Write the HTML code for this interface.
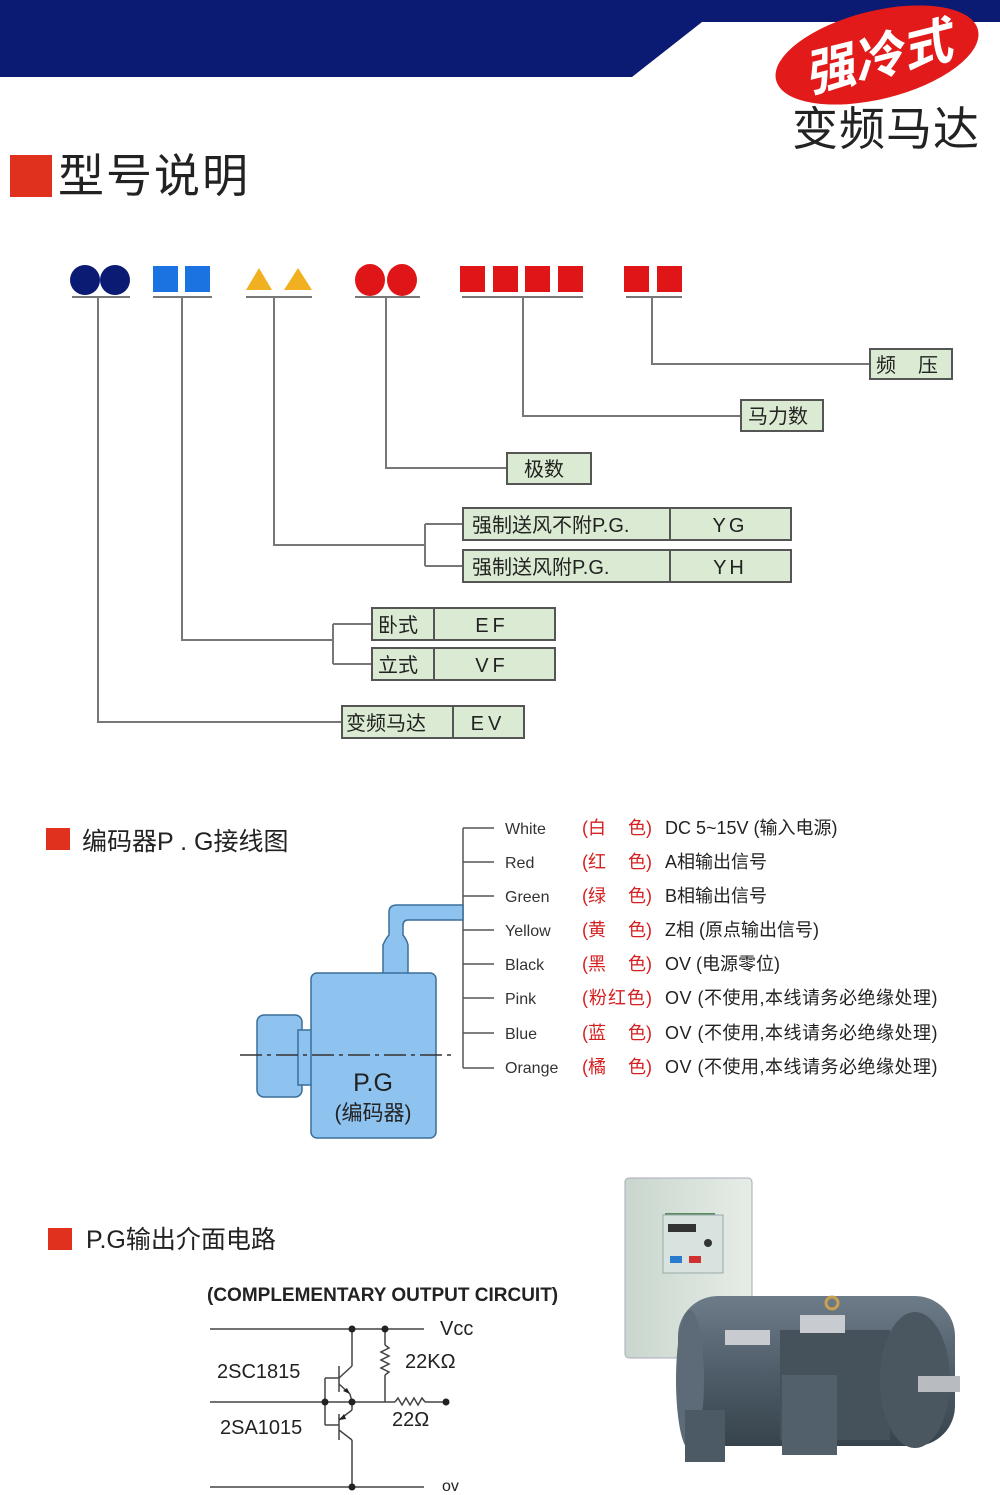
<!DOCTYPE html>
<html><head><meta charset="utf-8"><style>
body{margin:0;background:#fff;}
svg{display:block;}
text{font-family:"Liberation Sans","Noto Sans CJK SC",sans-serif;}
</style></head><body>
<svg width="1000" height="1495" viewBox="0 0 1000 1495" xmlns="http://www.w3.org/2000/svg">
<defs>
<linearGradient id="mg" x1="0" y1="0" x2="0" y2="1"><stop offset="0" stop-color="#6d7c88"/><stop offset="0.5" stop-color="#4f5e6a"/><stop offset="1" stop-color="#37434c"/></linearGradient>
<linearGradient id="ig" x1="0" y1="0" x2="1" y2="0"><stop offset="0" stop-color="#c9d6cd"/><stop offset="1" stop-color="#e6ede6"/></linearGradient>
</defs>
<polygon points="0,0 1000,0 1000,22 702,22 632,77 0,77" fill="#0b1a72"/>
<ellipse cx="877" cy="55" rx="104" ry="44" transform="rotate(-14 877 55)" fill="#e21a1a"/>
<text x="877" y="75" text-anchor="middle" font-size="50" font-weight="bold" font-style="italic" fill="#fff" transform="rotate(-14 877 55)">强冷式</text>
<text x="886" y="145" text-anchor="middle" font-size="46" fill="#222" letter-spacing="1">变频马达</text>
<rect x="10" y="155" width="42" height="42" fill="#e0301e"/>
<text x="58" y="192" font-size="46" fill="#222" letter-spacing="2">型号说明</text>

<g>
<circle cx="85" cy="280" r="15" fill="#0b1a72"/><circle cx="115" cy="280" r="15" fill="#0b1a72"/>
<rect x="153" y="266" width="25" height="26" fill="#1a73e0"/><rect x="185" y="266" width="25" height="26" fill="#1a73e0"/>
<polygon points="259,268 272,290 246,290" fill="#f0b020"/><polygon points="298,268 312,290 284,290" fill="#f0b020"/>
<ellipse cx="370" cy="280" rx="15" ry="16" fill="#e01518"/><ellipse cx="402" cy="280" rx="15" ry="16" fill="#e01518"/>
<rect x="460" y="266" width="25" height="26" fill="#e01518"/><rect x="493" y="266" width="25" height="26" fill="#e01518"/>
<rect x="525" y="266" width="25" height="26" fill="#e01518"/><rect x="558" y="266" width="25" height="26" fill="#e01518"/>
<rect x="624" y="266" width="25" height="26" fill="#e01518"/><rect x="657" y="266" width="25" height="26" fill="#e01518"/>
</g>
<g stroke="#777" stroke-width="2" fill="none">
<line x1="72" y1="297" x2="130" y2="297"/><line x1="153" y1="297" x2="212" y2="297"/>
<line x1="246" y1="297" x2="312" y2="297"/><line x1="355" y1="297" x2="420" y2="297"/>
<line x1="462" y1="297" x2="583" y2="297"/><line x1="626" y1="297" x2="682" y2="297"/>
<polyline points="98,297 98,722 342,722"/>
<polyline points="182,297 182,640 333,640"/>
<polyline points="333,624 333,664"/><line x1="333" y1="624" x2="372" y2="624"/><line x1="333" y1="664" x2="372" y2="664"/>
<polyline points="274,297 274,545 425,545"/>
<polyline points="425,524 425,566"/><line x1="425" y1="524" x2="463" y2="524"/><line x1="425" y1="566" x2="463" y2="566"/>
<polyline points="386,297 386,468 507,468"/>
<polyline points="523,297 523,416 741,416"/>
<polyline points="652,297 652,364 870,364"/>
</g>
<g fill="#dbebd3" stroke="#555" stroke-width="2">
<rect x="870" y="349" width="82" height="30"/>
<rect x="741" y="400" width="82" height="31"/>
<rect x="507" y="453" width="84" height="31"/>
<rect x="463" y="508" width="328" height="32"/><line x1="670" y1="508" x2="670" y2="540"/>
<rect x="463" y="550" width="328" height="32"/><line x1="670" y1="550" x2="670" y2="582"/>
<rect x="372" y="608" width="183" height="32"/><line x1="434" y1="608" x2="434" y2="640"/>
<rect x="372" y="648" width="183" height="32"/><line x1="434" y1="648" x2="434" y2="680"/>
<rect x="342" y="706" width="182" height="32"/><line x1="453" y1="706" x2="453" y2="738"/>
</g>
<g font-size="20" fill="#222">
<text x="876" y="372">频</text><text x="918" y="372">压</text>
<text x="748" y="423">马力数</text>
<text x="524" y="476">极数</text>
<text x="472" y="532">强制送风不附P.G.</text><text x="730" y="532" text-anchor="middle" letter-spacing="3">YG</text>
<text x="472" y="574">强制送风附P.G.</text><text x="730" y="574" text-anchor="middle" letter-spacing="3">YH</text>
<text x="378" y="632">卧式</text><text x="492" y="632" text-anchor="middle" letter-spacing="4">EF</text>
<text x="378" y="672">立式</text><text x="492" y="672" text-anchor="middle" letter-spacing="4">VF</text>
<text x="346" y="730">变频马达</text><text x="488" y="730" text-anchor="middle" letter-spacing="4">EV</text>
</g>

<rect x="46" y="828" width="24" height="22" fill="#e0301e"/>
<text x="82" y="850" font-size="25" fill="#222">编码器P . G接线图</text>
<g stroke="#555" stroke-width="1.5">
<line x1="463" y1="828" x2="463" y2="1068"/>
<line x1="463" y1="828" x2="494" y2="828"/><line x1="463" y1="862" x2="494" y2="862"/>
<line x1="463" y1="896" x2="494" y2="896"/><line x1="463" y1="930" x2="494" y2="930"/>
<line x1="463" y1="964" x2="494" y2="964"/><line x1="463" y1="998" x2="494" y2="998"/>
<line x1="463" y1="1033" x2="494" y2="1033"/><line x1="463" y1="1068" x2="494" y2="1068"/>
</g>
<g font-size="16" fill="#333">
<text x="505" y="834">White</text><text x="505" y="868">Red</text><text x="505" y="902">Green</text><text x="505" y="936">Yellow</text>
<text x="505" y="970">Black</text><text x="505" y="1004">Pink</text><text x="505" y="1039">Blue</text><text x="505" y="1073">Orange</text>
</g>
<g font-size="18" fill="#d42020">
<text x="582" y="834">(白</text><text x="628" y="834">色)</text>
<text x="582" y="868">(红</text><text x="628" y="868">色)</text>
<text x="582" y="902">(绿</text><text x="628" y="902">色)</text>
<text x="582" y="936">(黄</text><text x="628" y="936">色)</text>
<text x="582" y="970">(黑</text><text x="628" y="970">色)</text>
<text x="582" y="1004" letter-spacing="1">(粉红色)</text>
<text x="582" y="1039">(蓝</text><text x="628" y="1039">色)</text>
<text x="582" y="1073">(橘</text><text x="628" y="1073">色)</text>
</g>
<g font-size="18" fill="#222">
<text x="665" y="834">DC 5~15V (输入电源)</text>
<text x="665" y="868">A相输出信号</text>
<text x="665" y="902">B相输出信号</text>
<text x="665" y="936">Z相 (原点输出信号)</text>
<text x="665" y="970">OV (电源零位)</text>
<text x="665" y="1004" letter-spacing="0.5">OV (不使用,本线请务必绝缘处理)</text>
<text x="665" y="1039" letter-spacing="0.5">OV (不使用,本线请务必绝缘处理)</text>
<text x="665" y="1073" letter-spacing="0.5">OV (不使用,本线请务必绝缘处理)</text>
</g>
<g fill="#8ec3f0" stroke="#3a6f9a" stroke-width="1.5">
<path d="M383,975 L383,945 Q386,938 389,935 L389,912 Q389,905 397,905 L463,905 L463,920 L408,920 Q403,920 403,926 L403,935 Q407,940 408,945 L408,975 Z"/>
<rect x="257" y="1015" width="45" height="82" rx="7"/>
<rect x="298" y="1030" width="16" height="55"/>
<rect x="311" y="973" width="125" height="165" rx="6"/>
</g>
<line x1="240" y1="1055" x2="456" y2="1055" stroke="#333" stroke-width="1.5" stroke-dasharray="22,5,4,5"/>
<text x="373" y="1091" text-anchor="middle" font-size="25" fill="#222">P.G</text>
<text x="373" y="1120" text-anchor="middle" font-size="21" fill="#222">(编码器)</text>

<rect x="48" y="1228" width="24" height="22" fill="#e0301e"/>
<text x="86" y="1248" font-size="25" fill="#222">P.G输出介面电路</text>
<text x="207" y="1301" font-size="19" font-weight="bold" fill="#222">(COMPLEMENTARY OUTPUT CIRCUIT)</text>
<g stroke="#444" stroke-width="1.5" fill="none">
<line x1="210" y1="1329" x2="424" y2="1329"/>
<line x1="210" y1="1402" x2="325" y2="1402"/>
<line x1="210" y1="1487" x2="424" y2="1487"/>
<line x1="352" y1="1329" x2="352" y2="1366"/>
<line x1="339" y1="1366" x2="339" y2="1392"/>
<line x1="339" y1="1378" x2="352" y2="1366"/>
<line x1="339" y1="1384" x2="350" y2="1394"/>
<line x1="350" y1="1394" x2="352" y2="1402"/>
<line x1="325" y1="1378" x2="339" y2="1378"/>
<line x1="325" y1="1378" x2="325" y2="1425"/>
<line x1="325" y1="1425" x2="339" y2="1425"/>
<line x1="339" y1="1414" x2="339" y2="1440"/>
<line x1="352" y1="1402" x2="352" y2="1410"/>
<line x1="352" y1="1410" x2="339" y2="1420"/>
<line x1="339" y1="1430" x2="352" y2="1440"/>
<line x1="352" y1="1440" x2="352" y2="1487"/>
<line x1="325" y1="1402" x2="385" y2="1402"/>
<line x1="385" y1="1329" x2="385" y2="1345"/>
<polyline points="385,1345 389,1348 381,1352 389,1356 381,1360 389,1364 381,1368 389,1372 385,1375"/>
<line x1="385" y1="1375" x2="385" y2="1402"/>
<line x1="385" y1="1402" x2="395" y2="1402"/>
<polyline points="395,1402 398,1398 402,1405 406,1398 410,1405 414,1398 418,1405 422,1398 425,1402"/>
<line x1="425" y1="1402" x2="446" y2="1402"/>
</g>
<g fill="#222">
<circle cx="352" cy="1329" r="3.5"/><circle cx="385" cy="1329" r="3.5"/>
<circle cx="325" cy="1402" r="3.5"/><circle cx="352" cy="1402" r="3.5"/>
<circle cx="446" cy="1402" r="3.5"/><circle cx="352" cy="1487" r="3.5"/>
<polygon points="350,1394 343,1391 347,1388"/>
<polygon points="339,1420 344,1414 346,1419"/>
</g>
<g font-size="20" fill="#222">
<text x="440" y="1335">Vcc</text>
<text x="405" y="1368">22KΩ</text>
<text x="217" y="1378">2SC1815</text>
<text x="220" y="1434">2SA1015</text>
<text x="392" y="1426">22Ω</text>
<text x="442" y="1491" font-size="16">ov</text>
</g>

<g>
<rect x="625" y="1178" width="127" height="180" rx="4" fill="url(#ig)" stroke="#aab" stroke-width="1"/>
<rect x="665" y="1213" width="50" height="8" fill="#5a8a60"/>
<rect x="663" y="1215" width="60" height="58" fill="#d8e3df" stroke="#9aa"/>
<rect x="668" y="1224" width="28" height="8" fill="#333"/>
<rect x="670" y="1256" width="12" height="7" fill="#2a7ad0"/>
<rect x="689" y="1256" width="12" height="7" fill="#d03030"/>
<circle cx="708" cy="1243" r="4" fill="#333"/>
<rect x="678" y="1296" width="277" height="150" rx="40" fill="url(#mg)"/>
<ellipse cx="690" cy="1380" rx="14" ry="70" fill="#5c6b77"/>
<rect x="685" y="1410" width="40" height="52" fill="#4c5a65"/>
<rect x="780" y="1330" width="110" height="110" fill="#45525c"/>
<rect x="782" y="1375" width="55" height="80" fill="#52606b"/>
<rect x="800" y="1315" width="45" height="18" fill="#c8ccd0"/>
<rect x="725" y="1330" width="45" height="15" fill="#c8ccd0"/>
<ellipse cx="915" cy="1380" rx="35" ry="68" fill="#4a5761"/>
<circle cx="832" cy="1303" r="6" fill="none" stroke="#c9a050" stroke-width="3"/>
<rect x="918" y="1376" width="42" height="16" fill="#b8bcc0"/>
</g>
</svg>
</body></html>
